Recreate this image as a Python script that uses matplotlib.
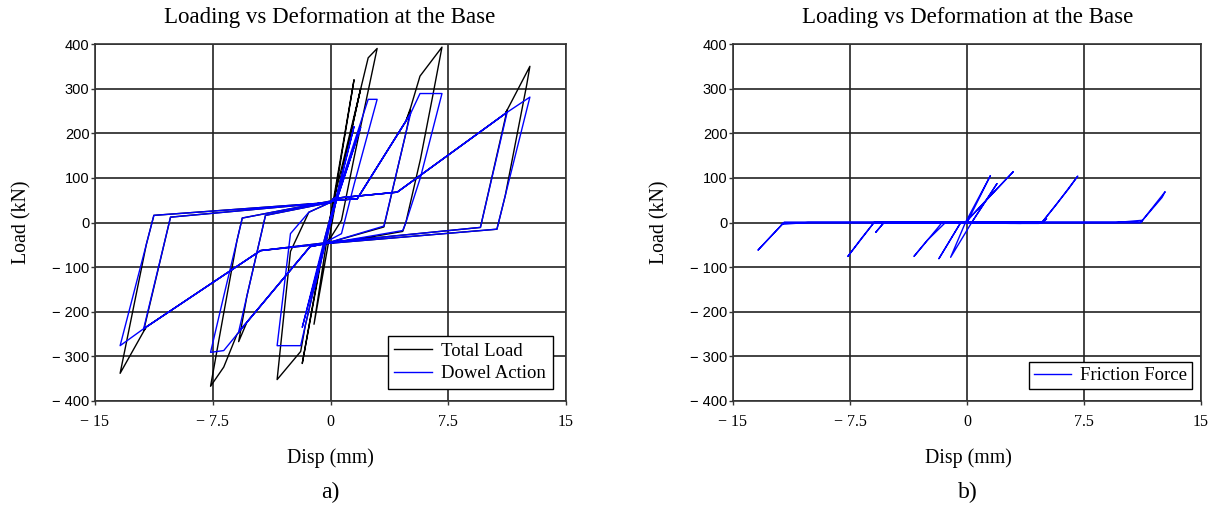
import matplotlib
matplotlib.use("Agg")
import matplotlib.pyplot as plt
import numpy as np

# ---- data (displacement in mm, forces in kN) ----
disp = [0.0, 1.5, -0.1, -1.05, 0.3, 1.92, 0.3, -0.4, -1.8, -0.4,
        -0.1, 0.3, 2.4, 2.97, 1.5, 0.7, -0.1, -0.4, -1.6, -1.9, -3.4, -2.55, -1.38, 0.3,
        1.7, 4.8, 5.1, 5.7, 7.1, 6.48, 5.73, 4.8, 4.6, 2.8, -0.4, -1.3, -5.5, -5.96, -6.8, -7.64,
        -6.8, -5.96, -5.62, 0.3,
        1.7, 4.8, 5.1, 4.8, 3.4, -0.4, -1.3, -5.32, -5.85, -5.32, -4.14, 0.0,
        0.2, 4.25, 11.13, 11.25, 12.7, 12.5, 11.13, 10.6, -0.2, -4.46, -11.73, -11.9, -13.4,
        -11.73, -11.25, 0.0,
        0.2, 4.25, 11.13, 11.25, 9.55, -0.2, -4.46, -11.73, -11.9, -10.19, 0.0]

dowel = [0, 215, -8, -150, 40, 213, 40, -48, -235, -40,
         0, 48, 276, 276, 85, -25, -40, -48, -230, -276, -276, -25, 23, 50,
         53, 227, 244, 289, 289, 204, 101, 0, -18, -29, -48, -54, -231, -251, -287, -291,
         -165, -41, 10, 50,
         53, 227, 244, 200, -8, -48, -54, -223, -245, -164, 16, 45,
         54, 68, 244, 247, 281, 253, 60, -15, -47, -63, -234, -238, -276,
         -49, 16, 45,
         54, 68, 244, 247, -11, -45, -63, -234, -238, 12, 45]

friction = [0, 105, 0, -78, 0, 87, 0, 0, -81, 0,
            0, 15, 93, 114, 60, 30, 0, 0, 0, -13, -76, -40, 0, 0,
            0, 0, 13, 39, 104, 74, 41, 0, -2, -2, 0, 0, 0, 0, -37, -76,
            -38, 0, 0, 0,
            0, 0, 8, 0, -2, 0, 0, 0, -22, 0, 0, 0,
            0, 0, 0, 5, 69, 56, 0, 0, 0, 0, 0, -6, -62,
            0, 0, 0,
            0, 0, 0, 5, 0, 0, 0, 0, -4, 0, 0]

total = [0, 320, -8, -228, 40, 300, 40, -48, -316, -40,
         0, 63, 369, 390, 145, 5, -40, -48, -230, -289, -352, -65, 23, 50,
         53, 227, 257, 328, 393, 278, 142, 0, -20, -31, -48, -54, -231, -251, -324, -367,
         -203, -41, 10, 50,
         53, 227, 252, 200, -10, -48, -54, -223, -267, -164, 16, 45,
         54, 68, 244, 252, 350, 309, 60, -15, -47, -63, -234, -244, -338,
         -49, 16, 45,
         54, 68, 244, 252, -11, -45, -63, -234, -242, 12, 45]

x_ticks = [-15, -7.5, 0, 7.5, 15]
x_tick_labels = ["\u2212 15", "\u2212 7.5", "0", "7.5", "15"]
y_ticks = [-400, -300, -200, -100, 0, 100, 200, 300, 400]
y_tick_labels = ["\u2212 400", "\u2212 300", "\u2212 200", "\u2212 100", "0", "100", "200", "300", "400"]

title = "Loading vs Deformation at the Base"

SERIF = "Liberation Serif"
SANS = "Liberation Sans"

fig = plt.figure(figsize=(12.17, 5.12), dpi=100)
W, H = 1217, 512
axL = fig.add_axes([95 / W, 1 - 401 / H, 471 / W, 357 / H])
axR = fig.add_axes([733 / W, 1 - 401 / H, 468 / W, 357 / H])


def style(ax):
    ax.set_xlim(-15, 15)
    ax.set_ylim(-400, 400)
    ax.set_xticks(x_ticks)
    ax.set_xticklabels(x_tick_labels, fontfamily=SERIF, fontsize=11.5)
    ax.set_yticks(y_ticks)
    ax.set_yticklabels(y_tick_labels, fontfamily=SANS, fontsize=10.5)
    ax.tick_params(axis="both", direction="out", length=3, width=1, color="#333333", pad=1)
    ax.tick_params(axis="x", pad=6)
    ax.grid(True, color="#222222", linewidth=1.2)
    ax.set_axisbelow(True)
    for s in ax.spines.values():
        s.set_color("#333333")
        s.set_linewidth(1.2)


axL.plot(disp, total, color="black", linewidth=1.0, label="Total Load", zorder=3)
axL.plot(disp, dowel, color="#0000ff", linewidth=1.0, label="Dowel Action", zorder=4)
axR.plot(disp, friction, color="#0000ff", linewidth=1.0, label="Friction Force", zorder=4)

for ax in (axL, axR):
    style(ax)

legL = axL.legend(loc="lower right", bbox_to_anchor=(0.972, 0.034), fancybox=False,
                  edgecolor="black", framealpha=1, borderaxespad=0,
                  prop={"family": SERIF, "size": 13.5}, handlelength=2.0,
                  handletextpad=0.5, borderpad=0.35, labelspacing=0.3)
legR = axR.legend(loc="lower right", bbox_to_anchor=(0.981, 0.034), fancybox=False,
                  edgecolor="black", framealpha=1, borderaxespad=0,
                  prop={"family": SERIF, "size": 13.5}, handlelength=2.0,
                  handletextpad=0.5, borderpad=0.25, labelspacing=0.2)
for leg in (legL, legR):
    leg.get_frame().set_linewidth(1.0)

# titles, axis labels, panel letters
fig.text(330 / W, 1 - 17 / H, title, ha="center", va="center", fontfamily=SERIF, fontsize=16.5)
fig.text(968 / W, 1 - 17 / H, title, ha="center", va="center", fontfamily=SERIF, fontsize=16.5)
fig.text(330 / W, 1 - 458 / H, "Disp (mm)", ha="center", va="center", fontfamily=SERIF, fontsize=14.3)
fig.text(968 / W, 1 - 458 / H, "Disp (mm)", ha="center", va="center", fontfamily=SERIF, fontsize=14.3)
fig.text(22 / W, 1 - 222 / H, "Load (kN)", ha="center", va="center", rotation=90,
         fontfamily=SERIF, fontsize=14.3)
fig.text(660 / W, 1 - 222 / H, "Load (kN)", ha="center", va="center", rotation=90,
         fontfamily=SERIF, fontsize=14.3)
fig.text(330 / W, 1 - 492 / H, "a)", ha="center", va="center", fontfamily=SERIF, fontsize=17)
fig.text(968 / W, 1 - 492 / H, "b)", ha="center", va="center", fontfamily=SERIF, fontsize=17)

fig.savefig("out.png", dpi=100)
